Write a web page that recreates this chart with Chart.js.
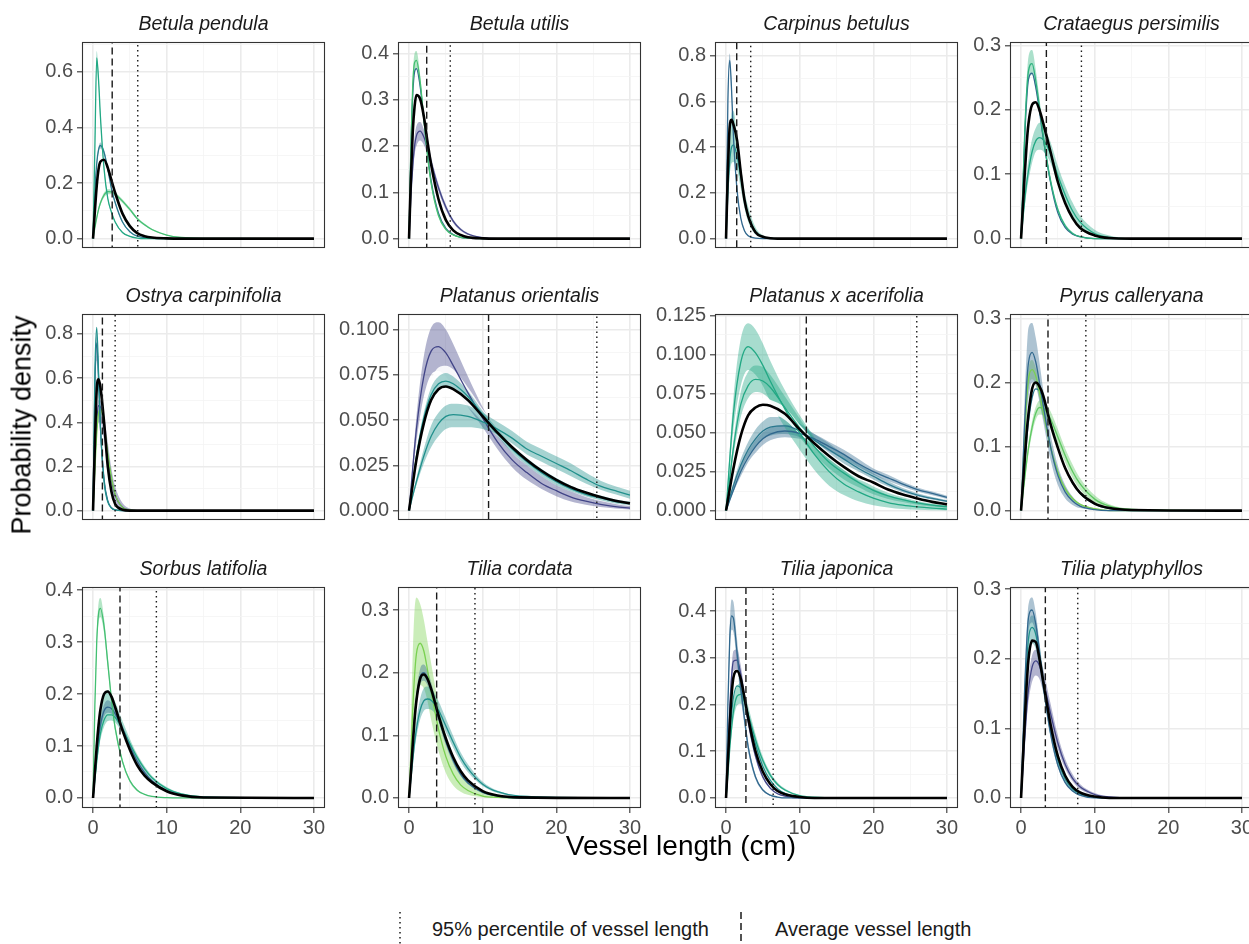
<!DOCTYPE html>
<html><head><meta charset="utf-8">
<script src="https://cdn.jsdelivr.net/npm/chart.js"></script>
<style>
html,body{margin:0;padding:0;background:#fff;}
body{width:1249px;height:944px;overflow:hidden;position:relative;font-family:"Liberation Sans",Arial,sans-serif;}
canvas{position:absolute;}
.strip{position:absolute;width:243px;height:24px;line-height:24px;text-align:center;font-style:italic;font-size:19.5px;color:#1a1a1a;white-space:nowrap;}
.ytitle{position:absolute;left:22px;top:425px;transform:translate(-50%,-50%) rotate(-90deg);font-size:27px;color:#000;white-space:nowrap;}
.xtitle{position:absolute;left:681px;top:846px;transform:translate(-50%,-50%);font-size:28px;color:#000;white-space:nowrap;}
.legtxt{position:absolute;top:929px;transform:translateY(-50%);font-size:20px;color:#1a1a1a;white-space:nowrap;}
.legkey{position:absolute;top:911px;}
</style></head><body>
<script>
// ---------------- DATA ----------------
const SPECIES = ["Betula pendula","Betula utilis","Carpinus betulus","Crataegus persimilis",
  "Ostrya carpinifolia","Platanus orientalis","Platanus x acerifolia","Pyrus calleryana",
  "Sorbus latifolia","Tilia cordata","Tilia japonica","Tilia platyphyllos"];
const MEAN_LEN = [2.6, 2.4, 1.45, 3.44, 1.27, 10.8, 10.9, 3.66, 3.66, 3.75, 2.7, 3.3];
const P95_LEN  = [6.07, 5.6, 3.35, 8.2, 3.0, 25.5, 25.9, 8.8, 8.6, 8.95, 6.4, 7.7];
const Y_RANGE = [[-0.0337,0.7074],[-0.0202,0.4246],[-0.041,0.8604],[-0.01455,0.3056],
  [-0.0424,0.8904],[-0.00516,0.1085],[-0.006,0.1259],[-0.0146,0.3069],
  [-0.0193,0.406],[-0.016,0.3368],[-0.0215,0.4518],[-0.0144,0.303]];
const Y_TICKS = [[0,0.2,0.4,0.6],[0,0.1,0.2,0.3,0.4],[0,0.2,0.4,0.6,0.8],[0,0.1,0.2,0.3],
  [0,0.2,0.4,0.6,0.8],[0,0.025,0.05,0.075,0.1],[0,0.025,0.05,0.075,0.1,0.125],[0,0.1,0.2,0.3],
  [0,0.1,0.2,0.3,0.4],[0,0.1,0.2,0.3],[0,0.1,0.2,0.3,0.4],[0,0.1,0.2,0.3]];
const Y_DEC = [1,1,1,1,1,3,3,1,1,1,1,1];
const X_TICKS = [0,5,10,15,20,25,30];
const X_FINE = [0,0.25,0.5,0.75,1,1.5,2,2.5,3,4,5,6,7,8,10,12,15,30];
const X_WIDE = [0,1,2,3,4,5,6,8,10,12,14,16,18,20,22,24,26,28,30];

// Betula pendula
const bpen_a = [0,.33,.65,.57,.44,.25,.145,.095,.06,.022,.008,.002,0,0,0,0,0,0];
const bpen_a_lo = [0,.31,.625,.55,.425,.24,.14,.091,.057,.02,.007,.002,0,0,0,0,0,0];
const bpen_a_hi = [0,.35,.675,.59,.455,.26,.15,.099,.063,.024,.009,.003,0,0,0,0,0,0];
const bpen_b = [0,.17,.27,.32,.335,.31,.25,.18,.13,.06,.025,.009,.003,.001,0,0,0,0];
const bpen_b_lo = [0,.16,.26,.31,.324,.3,.242,.174,.125,.057,.023,.008,.003,.001,0,0,0,0];
const bpen_b_hi = [0,.18,.28,.33,.346,.32,.258,.186,.135,.063,.027,.01,.004,.001,0,0,0,0];
const bpen_c = [0,.04,.075,.105,.128,.157,.169,.168,.16,.135,.105,.072,.05,.033,.013,.004,.001,0];
const bpen_c_lo = [0,.036,.069,.098,.12,.148,.16,.16,.152,.128,.099,.067,.046,.03,.011,.003,.001,0];
const bpen_c_hi = [0,.044,.081,.112,.136,.166,.178,.177,.168,.142,.111,.077,.054,.036,.015,.005,.001,0];
const bpen_k = [0,.10,.19,.25,.277,.284,.255,.21,.165,.09,.045,.02,.009,.004,.001,0,0,0];
// Betula utilis
const buti_g = [0,.2,.33,.38,.385,.34,.26,.18,.12,.05,.02,.008,.003,.001,0,0,0,0];
const buti_g_lo = [0,.19,.315,.36,.365,.325,.25,.172,.113,.046,.018,.007,.002,.001,0,0,0,0];
const buti_g_hi = [0,.21,.35,.4,.405,.355,.27,.19,.127,.055,.022,.009,.004,.001,0,0,0,0];
const buti_b = [0,.19,.31,.36,.367,.33,.26,.185,.125,.055,.022,.009,.003,.001,0,0,0,0];
const buti_p = [0,.09,.155,.2,.222,.232,.22,.195,.165,.11,.068,.038,.02,.01,.002,0,0,0];
const buti_p_lo = [0,.08,.138,.18,.2,.212,.203,.181,.154,.102,.062,.034,.017,.008,.001,0,0,0];
const buti_p_hi = [0,.1,.172,.22,.243,.252,.237,.209,.176,.118,.074,.042,.023,.012,.003,.001,0,0];
const buti_k = [0,.13,.23,.285,.31,.302,.265,.21,.16,.085,.04,.018,.008,.003,.0005,0,0,0];
// Carpinus betulus
const cbet_b = [0,.6,.78,.65,.45,.21,.09,.035,.013,.002,0,0,0,0,0,0,0,0];
const cbet_b_lo = [0,.57,.75,.62,.43,.2,.085,.032,.012,.002,0,0,0,0,0,0,0,0];
const cbet_b_hi = [0,.63,.81,.68,.47,.22,.095,.038,.015,.003,0,0,0,0,0,0,0,0];
const cbet_t = [0,.2,.34,.4,.41,.36,.27,.17,.1,.03,.008,.002,0,0,0,0,0,0];
const cbet_t_lo = [0,.16,.28,.33,.335,.3,.22,.135,.075,.018,.004,.001,0,0,0,0,0,0];
const cbet_t_hi = [0,.25,.45,.55,.56,.45,.32,.21,.14,.05,.015,.004,.001,0,0,0,0,0];
const cbet_k = [0,.3,.49,.52,.5,.43,.29,.17,.1,.028,.008,.002,0,0,0,0,0,0];
// Crataegus persimilis
const cper_g = [0,.08,.165,.225,.26,.272,.245,.205,.16,.09,.045,.02,.008,.003,0,0,0,0];
const cper_g_lo = [0,.075,.155,.21,.243,.255,.232,.195,.152,.085,.042,.018,.007,.002,0,0,0,0];
const cper_g_hi = [0,.088,.18,.245,.282,.293,.262,.218,.17,.097,.049,.023,.01,.004,.001,0,0,0];
const cper_b = [0,.075,.155,.213,.247,.257,.235,.198,.157,.088,.04,.017,.007,.003,0,0,0,0];
const cper_t = [0,.03,.06,.085,.105,.135,.152,.157,.154,.132,.098,.068,.043,.026,.008,.002,0,0];
const cper_t_lo = [0,.025,.05,.072,.09,.118,.135,.138,.136,.118,.086,.056,.033,.018,.004,.001,0,0];
const cper_t_hi = [0,.036,.072,.1,.123,.155,.172,.18,.175,.15,.113,.082,.056,.036,.014,.005,.001,0];
const cper_k = [0,.05,.1,.145,.178,.208,.212,.2,.18,.135,.088,.055,.032,.017,.005,.001,0,0];
// Ostrya carpinifolia
const ocar_t = [0,.62,.83,.62,.38,.13,.04,.012,.003,0,0,0,0,0,0,0,0,0];
const ocar_b = [0,.56,.76,.6,.38,.14,.045,.013,.003,0,0,0,0,0,0,0,0,0];
const ocar_b_lo = [0,.5,.68,.54,.34,.12,.038,.01,.002,0,0,0,0,0,0,0,0,0];
const ocar_b_hi = [0,.62,.8,.66,.42,.16,.052,.016,.004,0,0,0,0,0,0,0,0,0];
const ocar_p = [0,.22,.4,.475,.47,.38,.25,.14,.07,.015,.003,0,0,0,0,0,0,0];
const ocar_p_lo = [0,.18,.34,.4,.4,.32,.2,.1,.045,.007,.001,0,0,0,0,0,0,0];
const ocar_p_hi = [0,.26,.45,.5,.5,.43,.31,.19,.11,.035,.01,.002,0,0,0,0,0,0];
const ocar_g = [0,.18,.35,.44,.46,.39,.26,.15,.075,.015,.003,0,0,0,0,0,0,0];
const ocar_k = [0,.3,.55,.595,.56,.4,.2,.085,.03,.004,0,0,0,0,0,0,0,0];
// Platanus orientalis (X_WIDE)
const pori_n = [0,.045,.074,.088,.0905,.087,.08,.065,.051,.038,.028,.021,.015,.011,.0075,.0052,.0035,.0022,.0014];
const pori_n_lo = [0,.038,.063,.075,.077,.074,.068,.057,.046,.034,.024,.017,.012,.008,.005,.0033,.002,.0012,.0006];
const pori_n_hi = [0,.052,.085,.101,.104,.1,.092,.074,.057,.043,.032,.025,.019,.014,.0105,.0075,.0053,.0037,.0025];
const pori_t1 = [0,.03,.051,.064,.07,.0715,.07,.063,.053,.043,.034,.027,.021,.016,.012,.009,.007,.005,.004];
const pori_t1_lo = [0,.028,.048,.061,.067,.068,.067,.06,.051,.041,.032,.025,.019,.014,.0105,.0078,.0058,.004,.003];
const pori_t1_hi = [0,.032,.054,.068,.074,.076,.074,.066,.055,.045,.036,.029,.023,.018,.0138,.0105,.0083,.0062,.005];
const pori_t2 = [0,.016,.03,.041,.048,.052,.053,.052,.049,.045,.04,.034,.03,.026,.022,.0175,.0135,.011,.0085];
const pori_t2_lo = [0,.014,.026,.035,.041,.045,.046,.046,.045,.042,.037,.031,.027,.023,.019,.015,.0115,.009,.0065];
const pori_t2_hi = [0,.018,.034,.047,.054,.058,.059,.058,.054,.049,.044,.038,.034,.03,.026,.021,.0165,.0135,.011];
const pori_k = [0,.028,.048,.061,.067,.0685,.067,.061,.052,.043,.035,.028,.022,.017,.013,.01,.0075,.0055,.004];
const pori_w_lo = [0,.024,.043,.055,.061,.063,.062,.057,.049,.041,.033,.026,.02,.015,.011,.008,.006,.004,.003];
const pori_w_hi = [0,.033,.056,.072,.079,.08,.078,.068,.056,.046,.037,.03,.024,.019,.015,.012,.009,.007,.005];
// Platanus x acerifolia (X_WIDE)
const pace_g1 = [0,.062,.095,.105,.101,.093,.083,.065,.05,.036,.025,.017,.012,.008,.0052,.0035,.0024,.0016,.001];
const pace_g1_lo = [0,.052,.08,.09,.087,.08,.07,.053,.039,.026,.016,.01,.006,.0035,.002,.001,.0005,.0002,.0001];
const pace_g1_hi = [0,.072,.11,.12,.116,.107,.096,.077,.061,.047,.035,.026,.019,.014,.01,.0075,.0055,.004,.003];
const pace_g2 = [0,.04,.068,.08,.084,.083,.079,.066,.053,.041,.031,.024,.018,.013,.0095,.007,.005,.0035,.0025];
const pace_g2_lo = [0,.035,.06,.072,.076,.075,.071,.059,.047,.036,.027,.02,.015,.0105,.0075,.0055,.0038,.0026,.0018];
const pace_g2_hi = [0,.045,.076,.089,.093,.092,.087,.073,.059,.046,.035,.028,.021,.0155,.0115,.0085,.0062,.0045,.0033];
const pace_b1 = [0,.016,.029,.039,.046,.051,.0535,.0543,.051,.045,.039,.033,.027,.022,.017,.013,.01,.0078,.006];
const pace_b1_lo = [0,.014,.026,.035,.041,.046,.048,.049,.047,.042,.036,.03,.025,.02,.0155,.0118,.009,.007,.0053];
const pace_b1_hi = [0,.018,.033,.044,.052,.057,.06,.06,.056,.049,.043,.036,.03,.024,.019,.0145,.0112,.0088,.0068];
const pace_b2 = [0,.013,.025,.034,.041,.046,.049,.051,.0495,.046,.041,.036,.03,.025,.021,.017,.0135,.011,.0085];
const pace_b2_lo = [0,.012,.022,.031,.037,.042,.045,.047,.046,.043,.038,.033,.028,.023,.019,.0155,.0122,.0098,.0075];
const pace_b2_hi = [0,.015,.028,.038,.045,.05,.053,.055,.053,.049,.044,.039,.033,.027,.023,.0185,.0148,.0122,.0096];
const pace_k = [0,.027,.048,.061,.066,.0678,.0672,.062,.052,.043,.035,.028,.022,.018,.0135,.0103,.0078,.0056,.004];
const pace_w_lo = [0,.024,.044,.057,.062,.064,.063,.058,.049,.041,.033,.026,.02,.0165,.0125,.0095,.007,.005,.0035];
const pace_w_hi = [0,.03,.053,.066,.071,.072,.071,.066,.055,.045,.037,.03,.024,.0195,.0145,.011,.0086,.006,.0045];
// Pyrus calleryana
const pcal_b = [0,.07,.14,.195,.23,.247,.232,.2,.165,.1,.055,.029,.015,.007,.0015,0,0,0];
const pcal_b_lo = [0,.05,.1,.145,.175,.2,.195,.17,.14,.08,.04,.019,.009,.004,.001,0,0,0];
const pcal_b_hi = [0,.09,.18,.245,.285,.293,.27,.232,.19,.12,.07,.04,.022,.011,.003,.001,0,0];
const pcal_lg = [0,.06,.12,.17,.205,.22,.21,.185,.155,.1,.06,.034,.019,.01,.003,0,0,0];
const pcal_lg_lo = [0,.055,.11,.157,.19,.205,.197,.174,.146,.094,.056,.031,.017,.009,.002,0,0,0];
const pcal_lg_hi = [0,.065,.13,.183,.22,.235,.223,.196,.164,.106,.064,.037,.021,.011,.004,.001,0,0];
const pcal_b2 = [0,.035,.072,.108,.138,.176,.19,.187,.174,.137,.098,.066,.043,.027,.01,.003,0,0];
const pcal_g = [0,.025,.05,.075,.097,.13,.152,.161,.16,.143,.115,.086,.061,.042,.018,.007,.002,0];
const pcal_g_lo = [0,.022,.045,.068,.088,.12,.142,.15,.149,.132,.104,.075,.051,.033,.012,.004,.001,0];
const pcal_g_hi = [0,.028,.056,.082,.106,.14,.162,.172,.171,.155,.127,.097,.072,.051,.024,.01,.003,0];
const pcal_k = [0,.04,.08,.12,.15,.19,.2,.194,.18,.135,.098,.066,.044,.028,.011,.004,.001,0];
// Sorbus latifolia
const slat_g = [0,.18,.3,.355,.365,.33,.26,.19,.135,.07,.033,.015,.007,.003,.0005,0,0,0];
const slat_g_lo = [0,.17,.287,.338,.348,.317,.25,.182,.128,.066,.03,.013,.006,.0025,0,0,0,0];
const slat_g_hi = [0,.19,.315,.375,.385,.345,.272,.2,.143,.075,.036,.017,.008,.0035,.001,0,0,0];
const slat_t = [0,.035,.07,.1,.124,.15,.16,.16,.155,.133,.105,.078,.056,.039,.018,.008,.002,0];
const slat_t_lo = [0,.03,.062,.09,.112,.137,.148,.149,.145,.125,.099,.073,.052,.036,.016,.007,.002,0];
const slat_t_hi = [0,.045,.09,.13,.16,.195,.208,.2,.185,.148,.114,.084,.061,.043,.021,.009,.003,0];
const slat_b = [0,.04,.08,.115,.14,.168,.175,.172,.162,.133,.1,.071,.049,.033,.014,.006,.001,0];
const slat_b_lo = [0,.036,.073,.105,.128,.157,.164,.162,.153,.126,.094,.066,.045,.03,.012,.005,.001,0];
const slat_b_hi = [0,.044,.087,.125,.152,.18,.188,.183,.171,.14,.106,.076,.053,.036,.016,.007,.002,0];
const slat_k = [0,.05,.1,.14,.17,.2,.205,.195,.175,.13,.093,.063,.043,.03,.013,.005,.001,0];
// Tilia cordata
const tcor_lg = [0,.07,.14,.195,.23,.247,.235,.205,.17,.11,.066,.038,.021,.012,.003,.001,0,0];
const tcor_lg_lo = [0,.04,.09,.13,.16,.18,.175,.155,.125,.075,.04,.02,.01,.005,.001,0,0,0];
const tcor_lg_hi = [0,.12,.23,.3,.32,.31,.285,.25,.215,.15,.1,.064,.04,.025,.009,.003,.001,0];
const tcor_t = [0,.03,.06,.088,.11,.14,.155,.158,.156,.14,.115,.089,.065,.047,.022,.01,.003,0];
const tcor_t_lo = [0,.026,.052,.077,.097,.125,.139,.142,.141,.128,.105,.08,.058,.041,.019,.008,.002,0];
const tcor_t_hi = [0,.035,.07,.1,.125,.158,.175,.178,.175,.155,.127,.099,.073,.054,.026,.012,.004,0];
const tcor_b = [0,.04,.087,.128,.158,.193,.2,.192,.175,.13,.09,.06,.038,.024,.009,.003,0,0];
const tcor_b_lo = [0,.036,.08,.118,.146,.18,.187,.18,.165,.122,.084,.055,.035,.022,.008,.003,0,0];
const tcor_b_hi = [0,.044,.094,.138,.17,.206,.213,.204,.185,.138,.096,.065,.041,.026,.01,.004,0,0];
const tcor_k = [0,.04,.085,.125,.155,.19,.197,.19,.174,.132,.095,.065,.043,.028,.011,.004,.001,0];
// Tilia japonica
const tjap_b = [0,.2,.34,.39,.385,.31,.235,.17,.11,.045,.017,.006,.002,0,0,0,0,0];
const tjap_b_lo = [0,.18,.31,.36,.355,.285,.215,.155,.1,.04,.015,.005,.001,0,0,0,0,0];
const tjap_b_hi = [0,.22,.37,.425,.42,.34,.258,.187,.121,.05,.019,.007,.002,.001,0,0,0,0];
const tjap_p = [0,.1,.19,.26,.293,.295,.265,.215,.165,.09,.045,.021,.009,.004,0,0,0,0];
const tjap_p_lo = [0,.09,.175,.24,.272,.275,.248,.2,.153,.083,.041,.019,.008,.003,0,0,0,0];
const tjap_p_hi = [0,.11,.205,.28,.315,.318,.284,.23,.177,.097,.049,.023,.01,.004,0,0,0,0];
const tjap_t = [0,.065,.13,.18,.215,.24,.235,.21,.178,.115,.068,.038,.02,.01,.002,0,0,0];
const tjap_g = [0,.05,.105,.15,.185,.218,.222,.205,.18,.125,.08,.049,.029,.017,.005,.0015,0,0];
const tjap_g_lo = [0,.045,.095,.135,.167,.198,.202,.188,.165,.114,.072,.044,.026,.015,.004,.001,0,0];
const tjap_g_hi = [0,.055,.115,.165,.205,.24,.245,.225,.197,.137,.088,.055,.033,.02,.006,.002,0,0];
const tjap_k = [0,.08,.155,.22,.258,.272,.255,.215,.172,.1,.056,.03,.015,.008,.002,0,0,0];
// Tilia platyphyllos
const tpla_b = [0,.08,.16,.22,.258,.27,.25,.21,.165,.093,.047,.022,.01,.004,0,0,0,0];
const tpla_b_lo = [0,.074,.148,.205,.24,.252,.234,.197,.155,.087,.044,.02,.009,.003,0,0,0,0];
const tpla_b_hi = [0,.086,.172,.236,.277,.288,.266,.223,.175,.099,.05,.024,.011,.005,0,0,0,0];
const tpla_t = [0,.065,.135,.19,.228,.245,.235,.205,.168,.1,.054,.027,.013,.006,.001,0,0,0];
const tpla_t_lo = [0,.058,.122,.172,.207,.222,.214,.187,.153,.091,.049,.024,.011,.005,.001,0,0,0];
const tpla_t_hi = [0,.072,.148,.207,.246,.262,.253,.222,.182,.109,.059,.03,.015,.007,.0015,0,0,0];
const tpla_p = [0,.04,.085,.125,.155,.188,.197,.19,.17,.122,.079,.048,.028,.016,.005,.0015,0,0];
const tpla_p_lo = [0,.035,.075,.11,.137,.167,.176,.171,.153,.109,.07,.042,.024,.013,.004,.001,0,0];
const tpla_p_hi = [0,.046,.096,.14,.172,.205,.213,.206,.186,.136,.09,.056,.034,.02,.007,.002,0,0];
const tpla_k = [0,.055,.11,.16,.198,.226,.224,.2,.168,.106,.06,.032,.016,.008,.002,0,0,0];

// ---------------- STYLE ----------------
const C = {navy:'#414487', blue:'#31688e', blue2:'#2a788e', teal:'#21908c', tgreen:'#22a884',
  green:'#43bf71', lgreen:'#7ad151', mgreen:'#5ec962'};
const PANELS = [
 {x:X_FINE, k:bpen_k, curves:[{y:bpen_c,lo:bpen_c_lo,hi:bpen_c_hi,c:C.green},{y:bpen_b,lo:bpen_b_lo,hi:bpen_b_hi,c:C.blue2},{y:bpen_a,lo:bpen_a_lo,hi:bpen_a_hi,c:C.tgreen}]},
 {x:X_FINE, k:buti_k, curves:[{y:buti_p,lo:buti_p_lo,hi:buti_p_hi,c:C.navy},{y:buti_b,c:C.blue},{y:buti_g,lo:buti_g_lo,hi:buti_g_hi,c:C.green}]},
 {x:X_FINE, k:cbet_k, curves:[{y:cbet_t,lo:cbet_t_lo,hi:cbet_t_hi,c:C.teal,rc:C.tgreen},{y:cbet_b,lo:cbet_b_lo,hi:cbet_b_hi,c:C.blue}]},
 {x:X_FINE, k:cper_k, curves:[{y:cper_t,lo:cper_t_lo,hi:cper_t_hi,c:C.tgreen},{y:cper_b,c:C.blue},{y:cper_g,lo:cper_g_lo,hi:cper_g_hi,c:'#2db27d'}]},
 {x:X_FINE, k:ocar_k, curves:[{y:ocar_p,lo:ocar_p_lo,hi:ocar_p_hi,c:C.navy},{y:ocar_g,c:C.lgreen},{y:ocar_b,lo:ocar_b_lo,hi:ocar_b_hi,c:C.blue},{y:ocar_t,c:C.teal}]},
 {x:X_WIDE, k:pori_k, curves:[{y:pori_n,lo:pori_n_lo,hi:pori_n_hi,c:C.navy},{white:true,lo:pori_w_lo,hi:pori_w_hi},{y:pori_t2,lo:pori_t2_lo,hi:pori_t2_hi,c:C.teal},{y:pori_t1,lo:pori_t1_lo,hi:pori_t1_hi,c:C.teal}]},
 {x:X_WIDE, k:pace_k, curves:[{y:pace_b2,lo:pace_b2_lo,hi:pace_b2_hi,c:C.blue},{y:pace_b1,lo:pace_b1_lo,hi:pace_b1_hi,c:C.blue2},{y:pace_g2,lo:pace_g2_lo,hi:pace_g2_hi,c:C.tgreen},{y:pace_g1,lo:pace_g1_lo,hi:pace_g1_hi,c:C.tgreen},{white:true,lo:pace_w_lo,hi:pace_w_hi}]},
 {x:X_FINE, k:pcal_k, curves:[{y:pcal_g,lo:pcal_g_lo,hi:pcal_g_hi,c:C.mgreen},{y:pcal_b2,c:C.blue2},{y:pcal_lg,lo:pcal_lg_lo,hi:pcal_lg_hi,c:C.lgreen},{y:pcal_b,lo:pcal_b_lo,hi:pcal_b_hi,c:C.blue}]},
 {x:X_FINE, k:slat_k, curves:[{y:slat_t,lo:slat_t_lo,hi:slat_t_hi,c:C.tgreen},{y:slat_b,lo:slat_b_lo,hi:slat_b_hi,c:C.blue},{y:slat_g,lo:slat_g_lo,hi:slat_g_hi,c:C.green}]},
 {x:X_FINE, k:tcor_k, curves:[{y:tcor_lg,lo:tcor_lg_lo,hi:tcor_lg_hi,c:C.lgreen},{y:tcor_t,lo:tcor_t_lo,hi:tcor_t_hi,c:C.teal},{y:tcor_b,lo:tcor_b_lo,hi:tcor_b_hi,c:C.blue}]},
 {x:X_FINE, k:tjap_k, curves:[{y:tjap_g,lo:tjap_g_lo,hi:tjap_g_hi,c:C.tgreen},{y:tjap_t,c:C.teal},{y:tjap_p,lo:tjap_p_lo,hi:tjap_p_hi,c:C.navy},{y:tjap_b,lo:tjap_b_lo,hi:tjap_b_hi,c:C.blue}]},
 {x:X_FINE, k:tpla_k, curves:[{y:tpla_p,lo:tpla_p_lo,hi:tpla_p_hi,c:C.navy},{y:tpla_t,lo:tpla_t_lo,hi:tpla_t_hi,c:C.teal},{y:tpla_b,lo:tpla_b_lo,hi:tpla_b_hi,c:C.blue}]}
];

// ---------------- LAYOUT ----------------
const PANEL_LEFT = [82, 398, 715, 1010];
const PANEL_TOP = [42, 314, 587];
const PW = 243, PH = 221, AXW = 70, STRIP = 40, PADR = 4;
const FONT = '"Liberation Sans", Arial, sans-serif';

function rgba(hex, a){ const n = parseInt(hex.slice(1),16); return `rgba(${(n>>16)&255},${(n>>8)&255},${n&255},${a})`; }

const framePlugin = {
  id: 'frame',
  afterDraw(chart){
    const {ctx, chartArea:a} = chart;
    ctx.save(); ctx.strokeStyle = '#333333'; ctx.lineWidth = 1.1;
    ctx.strokeRect(a.left+0.5, a.top+0.5, a.right-a.left-1, a.bottom-a.top-1);
    ctx.restore();
  }
};

PANELS.forEach((p, i) => {
  const col = i % 4, row = Math.floor(i / 4), bottom = row === 2;
  const cw = AXW + PW + PADR, ch = STRIP + PH + (bottom ? 36 : 1);
  const cv = document.createElement('canvas');
  cv.width = cw; cv.height = ch;
  cv.style.left = (PANEL_LEFT[col] - AXW) + 'px';
  cv.style.top = (PANEL_TOP[row] - STRIP) + 'px';
  cv.style.width = cw + 'px'; cv.style.height = ch + 'px';
  document.body.appendChild(cv);

  const strip = document.createElement('div');
  strip.className = 'strip';
  strip.textContent = SPECIES[i];
  strip.style.left = PANEL_LEFT[col] + 'px';
  strip.style.top = (PANEL_TOP[row] - 31) + 'px';
  document.body.appendChild(strip);

  const pts = ys => p.x.map((x, k) => ({x, y: ys[k]}));
  const base = {type:'line', pointRadius:0, pointHoverRadius:0, cubicInterpolationMode:'monotone', fill:false};
  const ds = [];
  p.curves.forEach(c => {
    if (!c.lo) return;
    ds.push(Object.assign({}, base, {data: pts(c.lo), borderWidth:1, borderColor:'rgba(0,0,0,0)'}));
    const fillCol = c.white ? 'rgba(255,255,255,0.9)' : rgba(c.rc || c.c, 0.4);
    ds.push(Object.assign({}, base, {data: pts(c.hi), borderWidth:1, borderColor:'rgba(0,0,0,0)', fill: ds.length - 1, backgroundColor: fillCol}));
  });
  p.curves.forEach(c => {
    if (c.white) return;
    ds.push(Object.assign({}, base, {data: pts(c.y), borderColor: c.c, borderWidth: 1.3}));
  });
  ds.push(Object.assign({}, base, {data: pts(p.k), borderColor:'#000000', borderWidth: 2.6}));
  ds.push(Object.assign({}, base, {cubicInterpolationMode:'default', tension:0, clip:0,
    data:[{x:MEAN_LEN[i], y:-1},{x:MEAN_LEN[i], y:2}], borderColor:'#1a1a1a', borderWidth:1.4, borderDash:[7,4]}));
  ds.push(Object.assign({}, base, {cubicInterpolationMode:'default', tension:0, clip:0,
    data:[{x:P95_LEN[i], y:-1},{x:P95_LEN[i], y:2}], borderColor:'#1a1a1a', borderWidth:1.4, borderDash:[1.5,3.5]}));
  ds.forEach((d, k) => { d.order = ds.length - k; });

  const majors = Y_TICKS[i];
  const step = majors[1] - majors[0];
  const yt = [];
  majors.forEach((v, k) => { yt.push({v, lab: v.toFixed(Y_DEC[i]), major:true}); const m = v + step/2; if (m < Y_RANGE[i][1]) yt.push({v:m, lab:'', major:false}); });

  const isMajorX = c => c.tick && Math.abs(c.tick.value % 10) < 1e-9;
  const isMajorY = c => c.tick && yt.some(t => t.major && Math.abs(t.v - c.tick.value) < 1e-9);

  new Chart(cv, {
    type: 'line',
    data: {datasets: ds},
    options: {
      responsive:false, animation:false, devicePixelRatio:1, events:[],
      layout:{padding:{left:0, right:PADR, top:STRIP, bottom: bottom ? 0 : 1}},
      plugins:{legend:{display:false}, tooltip:{enabled:false}},
      scales:{
        x:{type:'linear', min:-1.5, max:31.5,
          afterBuildTicks: s => { s.ticks = X_TICKS.map(v => ({value:v})); },
          afterFit: s => { s.height = bottom ? 36 : 0; },
          border:{display:false},
          ticks:{display:bottom, autoSkip:false, maxRotation:0, padding:3,
            callback: v => (v % 10 === 0 ? String(v) : ''),
            font:{family:FONT, size:20}, color:'#4d4d4d'},
          grid:{drawTicks:bottom, tickLength:5, tickWidth:1.1,
            color: c => isMajorX(c) ? '#ebebeb' : '#f4f4f4',
            lineWidth: c => isMajorX(c) ? 1.6 : 0.8,
            tickColor: c => isMajorX(c) ? '#333333' : 'rgba(0,0,0,0)'}
        },
        y:{type:'linear', min:Y_RANGE[i][0], max:Y_RANGE[i][1],
          afterBuildTicks: s => { s.ticks = yt.map(t => ({value:t.v})); },
          afterFit: s => { s.width = AXW; },
          border:{display:false},
          ticks:{autoSkip:false, padding:4,
            callback: (v, idx) => yt[idx] ? yt[idx].lab : '',
            font:{family:FONT, size:20}, color:'#4d4d4d'},
          grid:{drawTicks:true, tickLength:5, tickWidth:1.1,
            color: c => isMajorY(c) ? '#ebebeb' : '#f4f4f4',
            lineWidth: c => isMajorY(c) ? 1.6 : 0.8,
            tickColor: c => isMajorY(c) ? '#333333' : 'rgba(0,0,0,0)'}
        }
      }
    },
    plugins:[framePlugin]
  });
});
</script>
<div class="ytitle">Probability density</div>
<div class="xtitle">Vessel length (cm)</div>
<svg class="legkey" style="left:394px" width="12" height="36"><line x1="6" y1="1" x2="6" y2="35" stroke="#1a1a1a" stroke-width="1.5" stroke-dasharray="1.5 3.5"/></svg>
<div class="legtxt" style="left:432px">95% percentile of vessel length</div>
<svg class="legkey" style="left:735px" width="12" height="36"><line x1="6" y1="1" x2="6" y2="35" stroke="#1a1a1a" stroke-width="1.5" stroke-dasharray="7 4"/></svg>
<div class="legtxt" style="left:775px">Average vessel length</div>
</body></html>
